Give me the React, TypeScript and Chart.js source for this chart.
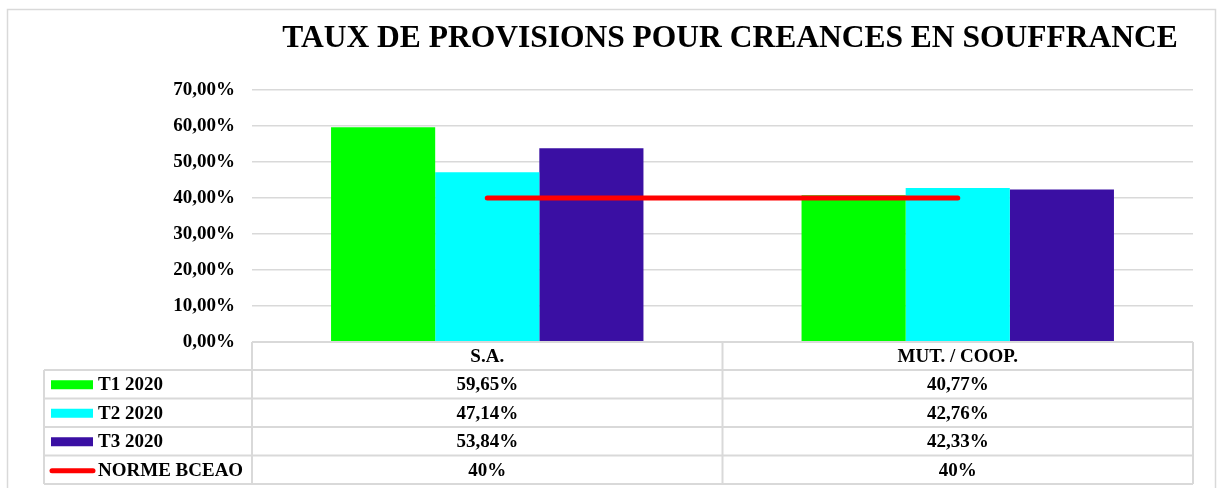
import React, { useEffect, useRef } from "react";
import { Chart, registerables } from "chart.js";

Chart.register(...registerables);

const TITLE = "TAUX DE PROVISIONS POUR CREANCES EN SOUFFRANCE";
const categories = ["S.A.", "MUT. / COOP."];
const seriesLabels = ["T1 2020", "T2 2020", "T3 2020", "NORME BCEAO"];
const t1Values = [59.65, 40.77];
const t2Values = [47.14, 42.76];
const t3Values = [53.84, 42.33];
const normeValues = [40, 40];
const yTicks = [0, 10, 20, 30, 40, 50, 60, 70];

const COLORS = ["#00FF00", "#00FFFF", "#3A0FA3", "#FF0000"];
const GRID = "#d9d9d9";
const FONT = '"Liberation Serif", "Times New Roman", serif';

const fmtTick = (v: number) => v.toFixed(2).replace(".", ",") + "%";
const fmtCell = (v: number) =>
  Number.isInteger(v) ? v + "%" : v.toFixed(2).replace(".", ",") + "%";

const tablePlugin = {
  id: "tablePlugin",
  afterDraw(chart: any) {
    const ctx = chart.ctx as CanvasRenderingContext2D;
    const xs = chart.scales.x;
    const area = chart.chartArea;
    const n = categories.length;
    const catW = (area.right - area.left) / n;
    const top = area.bottom;
    const rowsY = [top, 370, 398.5, 427, 455.5, 484];
    const legendLeft = 44;
    ctx.save();

    // outer frame
    ctx.strokeStyle = GRID;
    ctx.lineWidth = 1.5;
    ctx.strokeRect(7.5, 9.5, 1208, 490);

    // title
    ctx.fillStyle = "#000";
    ctx.font = `bold 31.5px ${FONT}`;
    ctx.textAlign = "center";
    ctx.textBaseline = "middle";
    ctx.fillText(TITLE, 730, 39);

    // table grid
    ctx.strokeStyle = GRID;
    ctx.lineWidth = 2;
    ctx.beginPath();
    for (let i = 0; i <= n; i++) {
      const x = area.left + i * catW;
      ctx.moveTo(x, rowsY[0]);
      ctx.lineTo(x, rowsY[rowsY.length - 1]);
    }
    ctx.moveTo(legendLeft, rowsY[1]);
    ctx.lineTo(legendLeft, rowsY[rowsY.length - 1]);
    ctx.moveTo(area.left, rowsY[0]);
    ctx.lineTo(area.right, rowsY[0]);
    for (let r = 1; r < rowsY.length; r++) {
      ctx.moveTo(legendLeft, rowsY[r]);
      ctx.lineTo(area.right, rowsY[r]);
    }
    ctx.stroke();

    // header
    ctx.fillStyle = "#000";
    ctx.font = `bold 19px ${FONT}`;
    ctx.textAlign = "center";
    ctx.textBaseline = "middle";
    categories.forEach((c, i) => {
      const cx = xs.getPixelForValue(i);
      ctx.fillText(c, cx, (rowsY[0] + rowsY[1]) / 2 + 1);
    });

    const allSeries = [t1Values, t2Values, t3Values, normeValues];
    allSeries.forEach((vals, r) => {
      const cy = (rowsY[r + 1] + rowsY[r + 2]) / 2 + 1;
      // legend key
      if (r < 3) {
        ctx.fillStyle = COLORS[r];
        ctx.fillRect(51, cy - 5, 42, 9);
      } else {
        ctx.strokeStyle = COLORS[r];
        ctx.lineWidth = 5;
        ctx.lineCap = "round";
        ctx.beginPath();
        ctx.moveTo(52, cy);
        ctx.lineTo(93, cy);
        ctx.stroke();
      }
      ctx.fillStyle = "#000";
      ctx.textAlign = "left";
      ctx.fillText(seriesLabels[r], 98, cy);
      ctx.textAlign = "center";
      vals.forEach((v, i) => {
        ctx.fillText(fmtCell(v), xs.getPixelForValue(i), cy);
      });
    });
    ctx.restore();
  },
};

export default function App() {
  const ref = useRef<HTMLCanvasElement>(null);
  useEffect(() => {
    if (!ref.current) return;
    Chart.defaults.font.family = FONT;
    const chart = new Chart(ref.current, {
      type: "bar",
      data: {
        labels: categories,
        datasets: [
          {
            type: "line",
            label: seriesLabels[3],
            data: normeValues,
            borderColor: COLORS[3],
            backgroundColor: COLORS[3],
            borderWidth: 5,
            borderCapStyle: "round",
            pointRadius: 0,
            order: 0,
          } as any,
          { label: seriesLabels[0], data: t1Values, backgroundColor: COLORS[0], order: 1 },
          { label: seriesLabels[1], data: t2Values, backgroundColor: COLORS[1], order: 1 },
          { label: seriesLabels[2], data: t3Values, backgroundColor: COLORS[2], order: 1 },
        ],
      },
      options: {
        responsive: false,
        animation: false,
        layout: { padding: { left: 0, right: 27, top: 90, bottom: 146 } },
        plugins: { legend: { display: false }, tooltip: { enabled: false } },
        datasets: { bar: { categoryPercentage: 0.664, barPercentage: 1.0 } },
        scales: {
          x: { display: false, offset: true, grid: { display: false } },
          y: {
            min: 0,
            max: 70,
            afterBuildTicks: (s: any) => {
              s.ticks = yTicks.map((v) => ({ value: v }));
            },
            afterFit: (s: any) => {
              s.width = 252;
            },
            border: { display: false },
            grid: { color: GRID, lineWidth: 1.5, drawTicks: false },
            ticks: {
              padding: 17,
              color: "#000",
              font: { size: 19, weight: "bold", family: FONT },
              callback: (v: any) => fmtTick(Number(v)),
            },
          },
        },
      },
      plugins: [tablePlugin],
    });
    return () => chart.destroy();
  }, []);
  return (
    <div style={{ position: "fixed", left: 0, top: 0, width: 1220, height: 488, background: "#fff" }}>
      <canvas ref={ref} width={1220} height={488} style={{ width: 1220, height: 488, display: "block" }} />
    </div>
  );
}
